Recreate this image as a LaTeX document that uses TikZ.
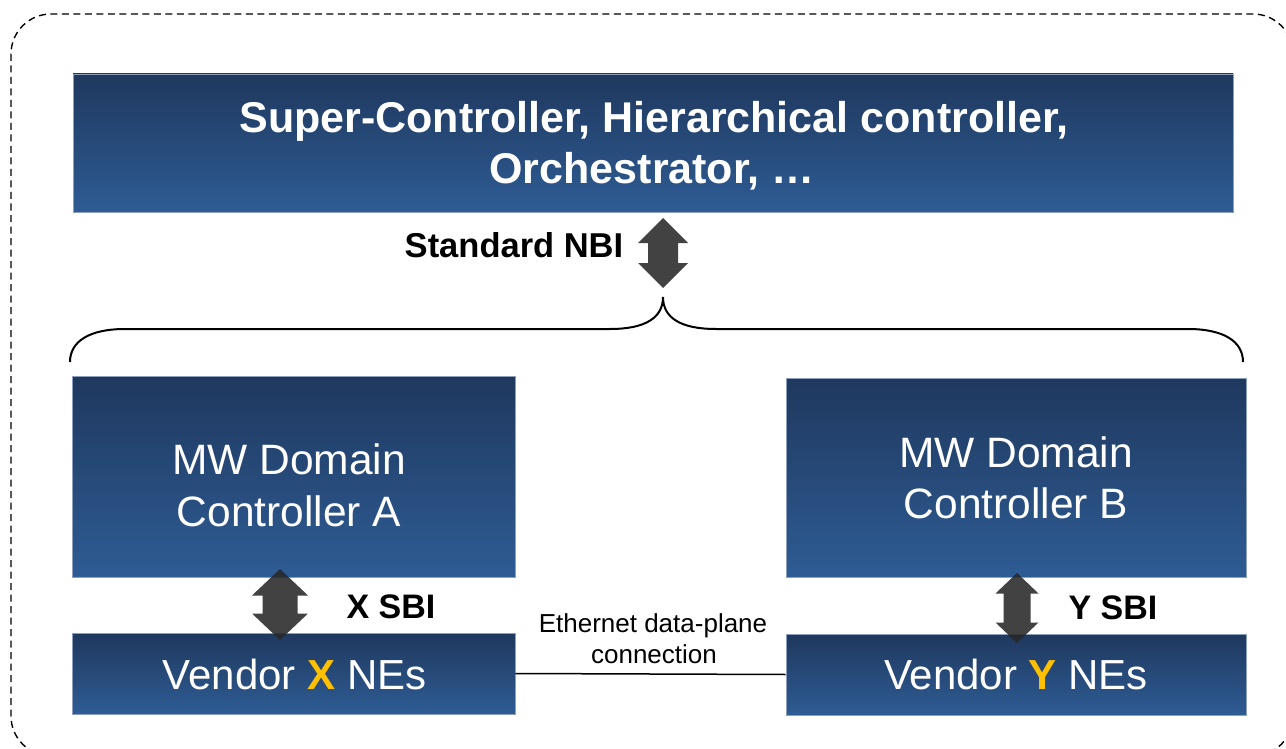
\documentclass[tikz,border=0pt]{standalone}
\usepackage{fontspec}
\setmainfont{Liberation Sans}
\usetikzlibrary{calc}

\definecolor{boxtop}{RGB}{31,56,94}
\definecolor{boxbot}{RGB}{46,92,148}
\definecolor{boxedge}{RGB}{140,160,190}
\definecolor{vendoryellow}{RGB}{255,192,0}
\definecolor{arrowgray}{RGB}{40,40,40}

\tikzset{
  panel/.style={rectangle, inner sep=0pt, top color=boxtop, bottom color=boxbot,
    draw=boxedge, line width=0.6pt},
  paneltext/.style={anchor=base, inner sep=0pt, text=white},
  plaintext/.style={anchor=base, inner sep=0pt, text=black},
  frameline/.style={draw=black, line width=1.4pt, dash pattern=on 7pt off 4.5pt,
    rounded corners=40pt},
  bracket/.style={draw=black, line width=2pt},
  linkline/.style={draw=black, line width=1.5pt},
  % double-headed block arrow: half length, head length, head half width, shaft half width
  pics/twoway/.style n args={4}{
    code={\fill[arrowgray, fill opacity=0.88]
      (0,-#1) -- (#3,-#1+#2) -- (#4,-#1+#2) -- (#4,#1-#2) -- (#3,#1-#2)
      -- (0,#1) -- (-#3,#1-#2) -- (-#4,#1-#2) -- (-#4,-#1+#2) -- (-#3,-#1+#2) -- cycle;}
  }
}

\begin{document}
\begin{tikzpicture}[x=1pt, y=-1pt]
\useasboundingbox (0,0) rectangle (1286,749);
\clip (0,0) rectangle (1286,749);

% outer dashed frame
\draw[frameline] (11,14) rectangle (1293,756);

% boxes
\node[panel, minimum width=1160pt, minimum height=138pt] (top) at (653,143) {};
\node[panel, minimum width=443pt, minimum height=201pt] (ctlA) at (293.5,476.5) {};
\node[panel, minimum width=460pt, minimum height=199pt] (ctlB) at (1016,477.5) {};
\node[panel, minimum width=443pt, minimum height=81pt] (vx) at (293.5,673.5) {};
\node[panel, minimum width=460pt, minimum height=81pt] (vy) at (1016,674.5) {};

% box labels
\node[paneltext, font=\bfseries\fontsize{43}{50}\selectfont] (topl1) at (654,133)
  {Super-Controller, Hierarchical controller,};
\node[paneltext, font=\bfseries\fontsize{43}{50}\selectfont] (topl2) at (652,184)
  {Orchestrator, …};
\node[paneltext, font=\fontsize{42.5}{48}\selectfont] (ctlAl1) at (289,474) {MW Domain};
\node[paneltext, font=\fontsize{42.5}{48}\selectfont] (ctlAl2) at (289,526) {Controller A};
\node[paneltext, font=\fontsize{42.5}{48}\selectfont] (ctlBl1) at (1016,467) {MW Domain};
\node[paneltext, font=\fontsize{42.5}{48}\selectfont] (ctlBl2) at (1016,518) {Controller B};
\node[paneltext, font=\fontsize{42}{48}\selectfont] (vxl) at (294.5,689)
  {Vendor \textcolor{vendoryellow}{\bfseries X} NEs};
\node[paneltext, font=\fontsize{42}{48}\selectfont] (vyl) at (1016,689)
  {Vendor \textcolor{vendoryellow}{\bfseries Y} NEs};

% brace grouping the two domain controllers
\coordinate (tip) at (663,297);
\draw[bracket] (70,362) .. controls (70,341) and (90,329) .. (125,329) -- (610,329)
  .. controls (645,329) and (663,318) .. (tip)
  .. controls (663,318) and (681,329) .. (716,329) -- (1188,329)
  .. controls (1223,329) and (1243,341) .. (1243,362);

% interfaces
\pic at (663,253) {twoway={35}{25}{25}{15}};
\node[plaintext, font=\bfseries\fontsize{34.5}{40}\selectfont] (nbi) at (514,258) {Standard NBI};

\pic at (280,604.5) {twoway={35.5}{26.5}{28}{17.5}};
\node[plaintext, font=\bfseries\fontsize{34}{40}\selectfont] (xsbi) at (391,618) {X SBI};

\pic at (1017,608) {twoway={35}{20.5}{21.5}{13.5}};
\node[plaintext, font=\bfseries\fontsize{34}{40}\selectfont] (ysbi) at (1113,619) {Y SBI};

% data-plane link between the vendor equipment
\draw[linkline] (vx.east) -- (vy.west);
\node[plaintext, font=\fontsize{26}{30}\selectfont] (eth1) at (653,632) {Ethernet data-plane};
\node[plaintext, font=\fontsize{26}{30}\selectfont] (eth2) at (654,663) {connection};
\end{tikzpicture}
\end{document}
